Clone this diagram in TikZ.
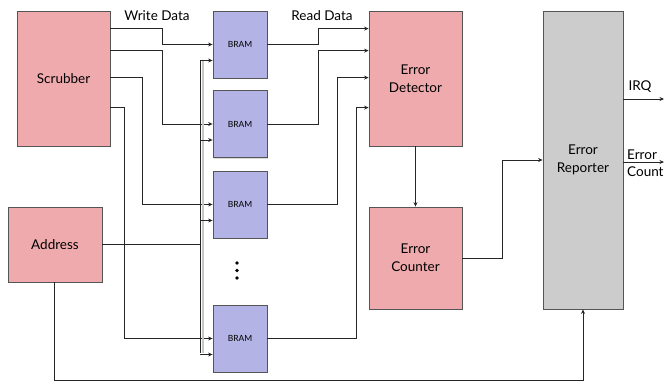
\documentclass[tikz,border=0pt]{standalone}
\usepackage{fontspec}
\setmainfont{Lato}
\usetikzlibrary{arrows.meta,shadows}
\definecolor{unitpink}{RGB}{239,170,174}
\definecolor{bramblue}{RGB}{179,179,230}
\definecolor{repgray}{RGB}{204,204,204}
\definecolor{edgegray}{RGB}{85,85,85}
\begin{document}
\begin{tikzpicture}[x=1pt,y=-1pt,>={Stealth[length=4.5pt,width=4pt]}]
    \tikzstyle{block}=[draw=edgegray,line width=0.8pt,inner sep=0pt,align=center,font=\fontsize{13.5}{18}\selectfont,drop shadow={shadow xshift=1.2pt,shadow yshift=-1.2pt,opacity=0.3}]
    \tikzstyle{unit}=[block,fill=unitpink,minimum width=93pt]
    \tikzstyle{bram}=[block,fill=bramblue,minimum width=54pt,minimum height=67pt,font=\fontsize{8.5}{9}\selectfont]
    \tikzstyle{wire}=[draw=black!85,line width=0.75pt]
    \tikzstyle{lbl}=[inner sep=0pt,font=\fontsize{13.5}{17}\selectfont]
    \useasboundingbox (0,0) rectangle (665,381);

    \node[unit,minimum height=135pt] at (63.5,78.5) (scrub) {Scrubber};
    \node[unit,minimum width=94pt,minimum height=75pt] at (55,244.5) (addr) {Address};
    \node[bram] at (240,44.5)  (b1) {BRAM};
    \node[bram] at (240,124)   (b2) {BRAM};
    \node[bram] at (240,204.5) (b3) {BRAM};
    \node[bram] at (240,338.5) (b4) {BRAM};
    \node[unit,minimum height=135pt] at (415.5,78.5) (det) {Error\\Detector};
    \node[unit,minimum height=102pt] at (415.5,258) (cnt) {Error\\Counter};
    \node[block,fill=repgray,minimum width=80pt,minimum height=298pt] at (583,160) (rep) {Error\\Reporter};
    \foreach \y in {263,270.5,278} \fill (237,\y) circle (1.8pt);

    \node[lbl] at (157,16) (wdata) {Write Data};
    \node[lbl] at (322,16) (rdata) {Read Data};
    \node[lbl] at (640,87) (irqlbl) {IRQ};
    \node[lbl,anchor=west,align=left] at (627,163.5) (cntlbl) {Error\\Count};

    \coordinate (bustop) at (200,60);
    \coordinate (busbot) at (200,353);
    \coordinate (irq) at (664,99);
    \coordinate (cntout) at (664,162);

    % write data
    \draw[wire,->] ([yshift=-18pt]scrub.north east) -- ++(52,0) |- (b1.west);
    \draw[wire,->] ([yshift=-40pt]scrub.north east) -- ++(52,0) |- (b2.west);
    \draw[wire,->] ([yshift=-67pt]scrub.north east) -- ++(32,0) |- (b3.west);
    \draw[wire,->] ([yshift=-97pt]scrub.north east) -- ++(14,0) |- (b4.west);

    % address bus
    \draw[black!22,line width=2pt] ([xshift=3pt]bustop) -- ([xshift=3pt]busbot);
    \draw[wire] (bustop) -- (busbot);
    \draw[wire] (addr.east) -- (addr.east -| bustop);
    \foreach \b in {b1,b2,b3,b4}
        \draw[wire,->] ([yshift=-16pt]\b.west -| bustop) -- ([yshift=-16pt]\b.west);
    \draw[wire,->] ([xshift=-1pt]addr.south) -- ++(0,98) -| (rep.south);

    % read data
    \draw[wire,->] (b1.east) -- ++(51,0) |- ([yshift=-18pt]det.north west);
    \draw[wire,->] (b2.east) -- ++(51,0) |- ([yshift=-40pt]det.north west);
    \draw[wire,->] (b3.east) -- ++(70,0) |- ([yshift=-67pt]det.north west);
    \draw[wire,->] (b4.east) -- ++(89,0) |- ([yshift=-97pt]det.north west);

    \draw[wire,->] (det.south) -- (cnt.north);
    \draw[wire,->] (cnt.east) -- ++(40,0) |- (rep.west);
    \draw[wire,->] (rep.east |- irq) -- (irq);
    \draw[wire,->] (rep.east |- cntout) -- (cntout);
\end{tikzpicture}
\end{document}
